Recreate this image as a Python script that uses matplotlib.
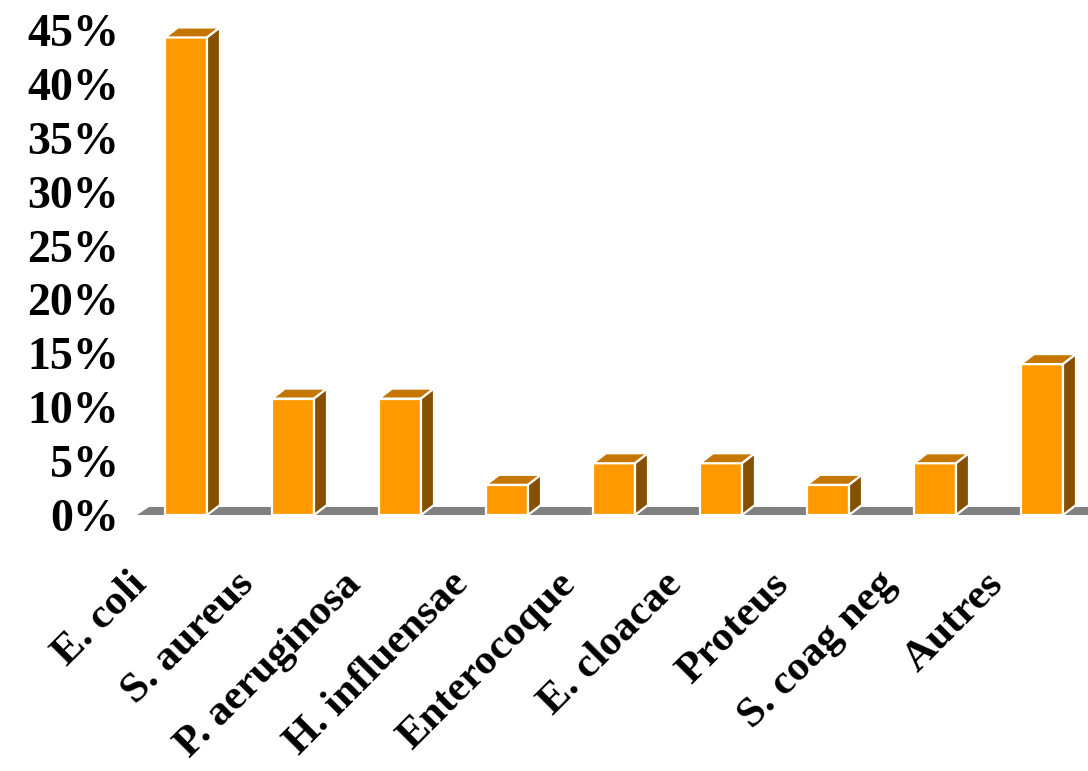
import matplotlib
matplotlib.use("Agg")
import matplotlib.pyplot as plt
from matplotlib.patches import Polygon
import matplotlib.transforms as mtransforms

CATS = ["E. coli", "S. aureus", "P. aeruginosa", "H. influensae", "Enterocoque",
        "E. cloacae", "Proteus", "S. coag neg", "Autres"]
VALS = [44.3, 10.8, 10.8, 2.8, 4.8, 4.8, 2.8, 4.8, 14.0]
YTICKS = [0, 5, 10, 15, 20, 25, 30, 35, 40, 45]

FRONT = "#FF9900"
TOP = "#C47600"
SIDE = "#855000"
FLOOR = "#808080"

W, H = 1088, 771
fig = plt.figure(figsize=(W / 100, H / 100), dpi=100, facecolor="white")
# axes placed in pixel terms: left 137, bottom 515 (from top), 10.78 px per %
px_per_pct = 10.78
y0_px = 515
ymax = 47.2
ax = fig.add_axes([137 / W, (H - y0_px) / H, 1 - 137 / W, ymax * px_per_pct / H])
x_left = -49 / 107
x_right = (W - 186) / 107
ax.set_xlim(x_left, x_right)
ax.set_ylim(0, ymax)

bw = 42 / 107          # bar width
dx = 13 / 107          # depth offset x
dy = 10 / px_per_pct   # depth offset y

# floor
fdx, fdy = 12 / 107, 8 / px_per_pct
ax.add_patch(Polygon([(x_left, 0), (x_right + 1, 0), (x_right + 1 + fdx, fdy),
                      (x_left + fdx, fdy)], closed=True, facecolor=FLOOR,
                     edgecolor="none", clip_on=False, zorder=1))

for i, v in enumerate(VALS):
    x0 = i - bw / 2
    x1 = x0 + bw
    kw = dict(closed=True, edgecolor="white", linewidth=1.6, clip_on=False, zorder=2)
    ax.add_patch(Polygon([(x0, 0), (x1, 0), (x1, v), (x0, v)], facecolor=FRONT, **kw))
    ax.add_patch(Polygon([(x0, v), (x1, v), (x1 + dx, v + dy), (x0 + dx, v + dy)],
                         facecolor=TOP, **kw))
    ax.add_patch(Polygon([(x1, 0), (x1 + dx, dy), (x1 + dx, v + dy), (x1, v)],
                         facecolor=SIDE, **kw))

ax.set_yticks(YTICKS)
ax.set_yticklabels([f"{t}%" for t in YTICKS], fontsize=33, fontweight="bold",
                   family="Liberation Serif")
ax.tick_params(axis="y", length=0, pad=13)
ax.set_xticks([])
for s in ax.spines.values():
    s.set_visible(False)

# rotated category labels below the floor
trans = mtransforms.blended_transform_factory(ax.transData, fig.transFigure)
for i, lab in enumerate(CATS):
    ax.text(i - 0.29, (H - 565) / H, lab, transform=trans, rotation=45,
            ha="right", va="top", fontsize=31, fontweight="bold",
            family="Liberation Serif")

fig.savefig("out.png", dpi=100, facecolor="white")
